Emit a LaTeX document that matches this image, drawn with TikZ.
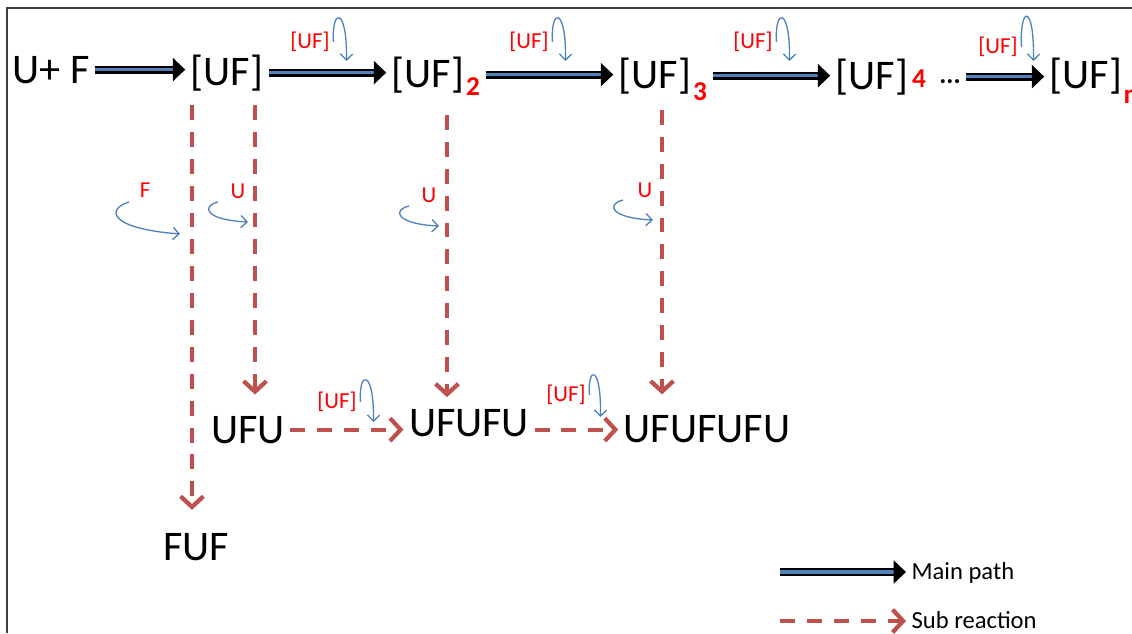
\documentclass[tikz,border=0pt]{standalone}
\usepackage{fontspec}
\setmainfont{Carlito}
\usetikzlibrary{arrows.meta}
\definecolor{mainblue}{RGB}{79,129,189}
\definecolor{subred}{RGB}{192,80,77}
\definecolor{framegray}{RGB}{64,64,64}
\tikzset{mainpath/.style={draw=black, line width=1.3pt, double=mainblue,
    double distance=2.1pt, -{Triangle[length=7pt,width=13pt]}},
  subpath/.style={draw=subred, line width=2.4pt,
    dash pattern=on 8.5pt off 6.8pt,
    -{Straight Barb[length=6pt,width=13pt]}},
  addloop/.style={draw=mainblue, line width=0.75pt,
    -{Straight Barb[length=3.5pt,width=7pt]}}}

\begin{document}
\begin{tikzpicture}[x=0.02cm, y=-0.02cm, font=\fontsize{24}{28}\selectfont,
    species/.style={inner sep=3pt, anchor=base},
    idx/.style={text=red, font=\fontsize{15.5}{18}\selectfont\bfseries,
      inner sep=3pt, anchor=base},
    monomer/.style={text=red, font=\fontsize{13}{15}\selectfont, inner sep=2pt},
    keytext/.style={font=\fontsize{14}{16}\selectfont, inner sep=3pt,
      anchor=base west}]
  \useasboundingbox (0,0) rectangle (1132,633);
  \draw[framegray, line width=1pt] (7,633) -- (7,8) -- (1132,8);

  % main path
  \node[species] (uf0) at (51,83) {U+ F};
  \node[species] (uf1) at (227,85) {[UF]};
  \node[species] (uf2) at (428,87) {[UF]};
  \node[idx] (n2) at (473,95) {2};
  \node[species] (uf3) at (655,88) {[UF]};
  \node[idx] (n3) at (700,100) {3};
  \node[species] (uf4) at (872,89) {[UF]};
  \node[idx] (n4) at (919,87) {4};
  \node[species, font=\fontsize{16}{18}\selectfont] (dots) at (950,89)
    {\textperiodcentered\textperiodcentered\textperiodcentered};
  \node[species] (ufn) at (1086,88) {[UF]};
  \node[idx] (nn) at (1131,103) {n};

  \draw[mainpath] (uf0.east) -- (uf0.east -| uf1.west);
  \draw[mainpath] (uf1.east) -- (uf1.east -| uf2.west);
  \draw[mainpath] (n2.east |- uf2.east) -- (uf2.east -| uf3.west);
  \draw[mainpath] (n3.east |- uf3.east) -- (uf3.east -| uf4.west);
  \draw[mainpath] (dots.east |- uf4.east) -- (uf4.east -| ufn.west);

  \node[monomer] (m1) at (310,42) {[UF]};
  \node[monomer] (m2) at (529,42) {[UF]};
  \node[monomer] (m3) at (753,42) {[UF]};
  \node[monomer] (m4) at (998,47) {[UF]};
  \draw[addloop] (m1.east) .. controls +(-2,-35) and +(1,-54) .. +(13,19);
  \draw[addloop] (m2.east) .. controls +(-2,-35) and +(1,-54) .. +(13,19);
  \draw[addloop] (m3.east) .. controls +(-2,-35) and +(1,-54) .. +(13,19);
  \draw[addloop] (m4.east) .. controls +(-2,-42) and +(1,-58) .. +(12,14);

  % side products
  \node[species] (fuf) at (196,560) {FUF};
  \node[species] (ufu) at (248,443) {UFU};
  \node[species] (ufufu) at (469,436) {UFUFU};
  \node[species] (ufufufu) at (707,442) {UFUFUFU};

  \coordinate (d1) at (192,105);
  \coordinate (d2) at (255,105);
  \coordinate (d3) at (447,115);
  \coordinate (d4) at (662,110);
  \draw[subpath, shorten >=10pt] (d1) -- (d1 |- fuf.north);
  \draw[subpath, shorten >=9pt] (d2) -- (d2 |- ufu.north);
  \draw[subpath, shorten >=3.5pt] (d3) -- (d3 |- ufufu.north);
  \draw[subpath, shorten >=8.5pt] (d4) -- (d4 |- ufufufu.north);
  \draw[subpath] (ufu.east) -- (ufu.east -| ufufu.west);
  \draw[subpath] (ufufu.east |- ufu.east) -- (ufu.east -| ufufufu.west);

  \node[monomer] (lf) at (145,190) {F};
  \node[monomer] (lu1) at (238,191) {U};
  \node[monomer] (lu2) at (429,195) {U};
  \node[monomer] (lu3) at (645,190) {U};
  \draw[addloop] ([shift={(-16,12)}]lf.center)
    .. controls +(-21,6) and +(-75,-6) .. +(51,32);
  \draw[addloop] ([shift={(-20,11)}]lu1.center)
    .. controls +(-17,4) and +(-43,-2) .. +(30,20);
  \draw[addloop] ([shift={(-20,11)}]lu2.center)
    .. controls +(-17,4) and +(-43,-2) .. +(30,20);
  \draw[addloop] ([shift={(-22,10)}]lu3.center)
    .. controls +(-17,4) and +(-43,-2) .. +(30,20);

  \node[monomer] (m5) at (337,402) {[UF]};
  \node[monomer] (m6) at (566,395) {[UF]};
  \draw[addloop] (m5.east) .. controls +(-2,-33) and +(1,-52) .. +(13,20);
  \draw[addloop] (m6.east) .. controls +(-2,-30) and +(1,-52) .. +(11,22);

  % legend
  \coordinate (k1) at (780,572);
  \coordinate (k2) at (780,621);
  \node[keytext] (kmain) at (906,579) {Main path};
  \node[keytext] (ksub) at (906,628) {Sub reaction};
  \draw[mainpath] (k1) -- (k1 -| kmain.west);
  \draw[subpath] (k2) -- (k2 -| ksub.west);
\end{tikzpicture}
\end{document}
